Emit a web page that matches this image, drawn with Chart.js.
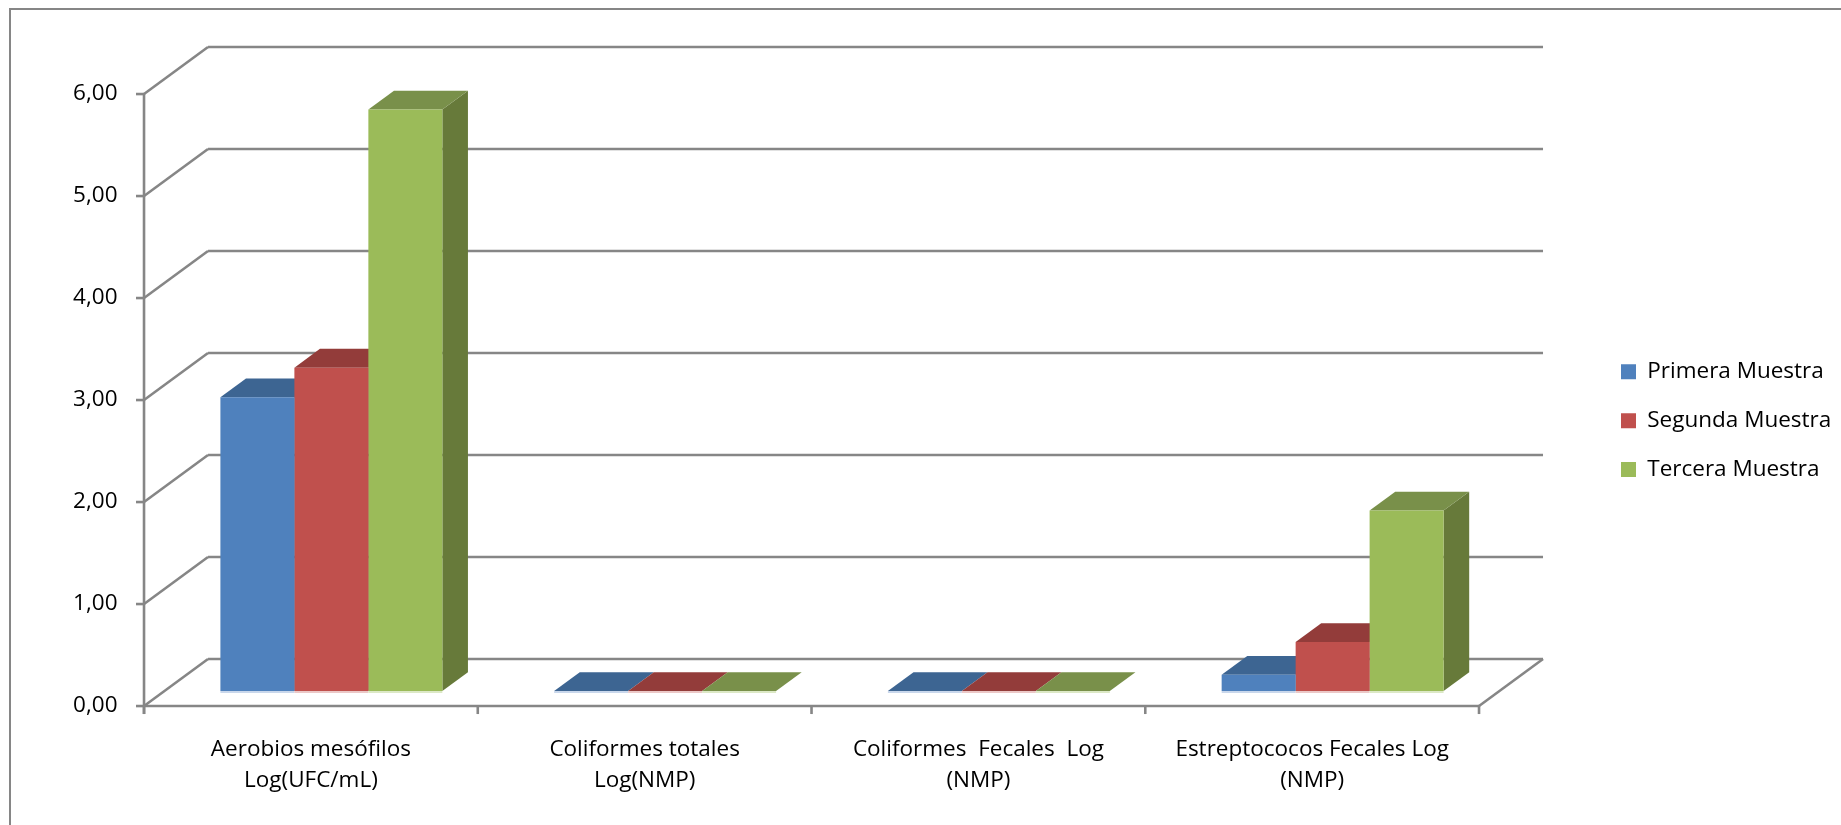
<!DOCTYPE html>
<html><head><meta charset="utf-8">
<script src="https://cdn.jsdelivr.net/npm/chart.js@4.4.1/dist/chart.umd.min.js"></script>
<style>html,body{margin:0;padding:0;background:#fff}canvas{display:block}</style>
</head><body>
<canvas id="c" width="1841" height="825"></canvas>
<script>
// ---- data ----
const categories = [
  ['Aerobios mesófilos', 'Log(UFC/mL)'],
  ['Coliformes totales', 'Log(NMP)'],
  ['Coliformes  Fecales  Log', '(NMP)'],
  ['Estreptococos Fecales Log', '(NMP)']
];
const seriesNames = ['Primera Muestra', 'Segunda Muestra', 'Tercera Muestra'];
const primera = [2.88, 0, 0, 0.16];
const segunda = [3.17, 0, 0, 0.48];
const tercera = [5.70, 0, 0, 1.77];
const yTickLabels = ['0,00', '1,00', '2,00', '3,00', '4,00', '5,00', '6,00'];

// ---- styles ----
const frontColors = ['#4F81BD', '#C0504D', '#9BBB59'];
const topColors   = ['#3D6592', '#933C3A', '#79904A'];
const sideColors  = ['#395C86', '#843533', '#677A3A'];
const glowColors  = ['#C9D7EB', '#EBC8C7', '#DCE8C6'];
const GRID = '#868686';
const FONT = '"Open Sans", sans-serif';
const FSIZE = 22.5;
// oblique 3D projection (pixels for full wall depth)
const DEPTH_X = 64, DEPTH_Y = -47;
const BAR_FRONT = 0.32, BAR_BACK = 0.72;
const frontOff = {dx: -BAR_FRONT * DEPTH_X, dy: -BAR_FRONT * DEPTH_Y};
const backOff  = {dx: (1 - BAR_FRONT) * DEPTH_X, dy: (1 - BAR_FRONT) * DEPTH_Y};
const barOff   = {dx: (BAR_BACK - BAR_FRONT) * DEPTH_X, dy: (BAR_BACK - BAR_FRONT) * DEPTH_Y};

function line(ctx, x1, y1, x2, y2) {
  ctx.beginPath(); ctx.moveTo(x1, y1); ctx.lineTo(x2, y2); ctx.stroke();
}
function poly(ctx, pts, color) {
  ctx.beginPath(); ctx.moveTo(pts[0][0], pts[0][1]);
  for (let i = 1; i < pts.length; i++) ctx.lineTo(pts[i][0], pts[i][1]);
  ctx.closePath(); ctx.fillStyle = color; ctx.fill();
}

const plot3d = {
  id: 'plot3d',
  beforeDraw(chart) {
    const ctx = chart.ctx;
    ctx.save();
    ctx.strokeStyle = GRID; ctx.lineWidth = 2;
    ctx.strokeRect(10, 9, 2000, 1000);
    ctx.restore();
    const lg = chart.legend;
    const pad = lg.options.labels.padding;
    lg.left = 1621 - pad; lg.right = 1841;
    lg.top = 360.5 - pad; lg.bottom = 825;
  },
  beforeDatasetsDraw(chart) {
    const ctx = chart.ctx, ys = chart.scales.y;
    const L = chart.chartArea.left, R = chart.chartArea.right;
    const y0 = ys.getPixelForValue(0);
    ctx.save();
    ctx.strokeStyle = GRID; ctx.lineWidth = 2.6; ctx.lineCap = 'butt';
    // walls and y axis
    ys.ticks.forEach(t => {
      const py = ys.getPixelForValue(t.value);
      const fx = L + frontOff.dx, fy = py + frontOff.dy;
      const bx = L + backOff.dx, by = py + backOff.dy;
      line(ctx, fx, fy, bx, by);
      line(ctx, bx, by, R + backOff.dx, by);
      line(ctx, fx - 8, fy, fx, fy);
    });
    const ytop = ys.getPixelForValue(ys.max);
    line(ctx, L + frontOff.dx, ytop + frontOff.dy, L + frontOff.dx, y0 + frontOff.dy + 8);
    // floor front edge and right side
    line(ctx, L + frontOff.dx, y0 + frontOff.dy, R + frontOff.dx, y0 + frontOff.dy);
    line(ctx, R + frontOff.dx, y0 + frontOff.dy, R + backOff.dx, y0 + backOff.dy);
    // category tick marks
    const n = chart.data.labels.length;
    for (let i = 0; i <= n; i++) {
      const px = L + (R - L) * i / n + frontOff.dx;
      line(ctx, px, y0 + frontOff.dy, px, y0 + frontOff.dy + 8);
    }
    // bar top and side faces
    chart.data.datasets.forEach((ds, di) => {
      const meta = chart.getDatasetMeta(di);
      meta.data.forEach(bar => {
        const l = bar.x - bar.width / 2, r = bar.x + bar.width / 2;
        const top = Math.min(bar.y, bar.base), base = Math.max(bar.y, bar.base);
        poly(ctx, [[r, top], [r + barOff.dx, top + barOff.dy], [r + barOff.dx, base + barOff.dy], [r, base]], sideColors[di]);
        poly(ctx, [[l, top], [r, top], [r + barOff.dx, top + barOff.dy], [l + barOff.dx, top + barOff.dy]], topColors[di]);
        ctx.fillStyle = glowColors[di];
        ctx.fillRect(l, base, r - l, 2);
      });
    });
    ctx.restore();
  }
};

const datasets = [primera, segunda, tercera].map((vals, i) => ({
  label: seriesNames[i],
  data: vals,
  backgroundColor: frontColors[i],
  borderWidth: 0,
  categoryPercentage: 0.665,
  barPercentage: 1.0
}));

new Chart(document.getElementById('c'), {
  type: 'bar',
  data: {labels: categories, datasets},
  plugins: [plot3d],
  options: {
    responsive: false,
    animation: false,
    devicePixelRatio: 1,
    layout: {padding: {left: 0, top: 79, right: 341.5, bottom: 0}},
    plugins: {
      tooltip: {enabled: false},
      legend: {
        position: 'chartArea',
        align: 'start',
        labels: {
          boxWidth: 15, boxHeight: 15, padding: 26.4,
          color: '#000', font: {family: FONT, size: FSIZE}
        }
      }
    },
    scales: {
      x: {
        grid: {display: false, drawTicks: false},
        border: {display: false},
        ticks: {
          color: '#000', font: {family: FONT, size: FSIZE, lineHeight: 1.38},
          padding: 43.5, labelOffset: frontOff.dx, maxRotation: 0, autoSkip: false
        },
        afterFit: s => { s.height = 825 - 691; }
      },
      y: {
        min: 0, max: 6,
        grid: {display: false, drawTicks: false},
        border: {display: false},
        ticks: {
          stepSize: 1,
          color: '#000', font: {family: FONT, size: FSIZE},
          padding: 47, labelOffset: frontOff.dy,
          callback: (v, i) => yTickLabels[i]
        },
        afterFit: s => { s.width = 164.5; }
      }
    }
  }
});
</script>
</body></html>
